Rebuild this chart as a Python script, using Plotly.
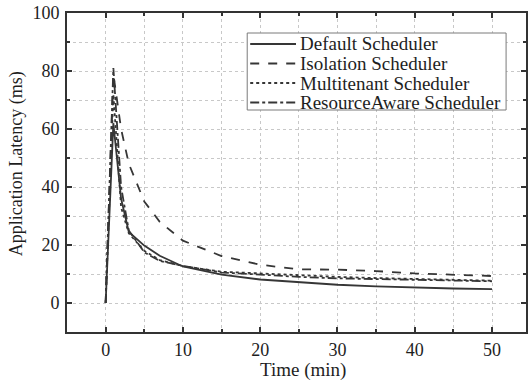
import plotly.graph_objects as go

time_min = [0, 1, 2, 3, 5, 7, 10, 15, 20, 25, 30, 35, 40, 45, 50]
default_latency = [0, 62, 36, 24.5, 19.8, 16.3, 12.6, 9.8, 8.1, 7.1, 6.3, 5.7, 5.3, 5.0, 4.8]
isolation_latency = [0, 79, 60, 48, 35, 28, 21.5, 16.2, 13.2, 11.6, 11.5, 11.0, 10.2, 9.7, 9.3]
multitenant_latency = [0, 72, 33, 24, 18, 14.8, 12.7, 10.8, 10.2, 9.5, 9.0, 8.6, 8.3, 8.0, 7.7]
resourceaware_latency = [0, 81, 40, 25, 17.5, 14.5, 12.8, 10.5, 9.8, 9.0, 8.5, 8.2, 7.9, 7.7, 7.5]

series_names = ["Default Scheduler", "Isolation Scheduler", "Multitenant Scheduler", "ResourceAware Scheduler"]
series_values = [default_latency, isolation_latency, multitenant_latency, resourceaware_latency]
dashes = ["solid", "dash", "dot", "dashdot"]

x_ticks = [0, 10, 20, 30, 40, 50]
y_ticks = [0, 20, 40, 60, 80, 100]

line_color = "#363636"
text_color = "#1e1e1e"
font_family = "Liberation Serif"

W, H = 528, 382
ML, MR, MT, MB = 67, 0, 13, 50
PW, PH = W - ML - MR, H - MT - MB


def px_x(p):
    return (p - ML) / PW


def px_y(p):
    return (H - MB - p) / PH


fig = go.Figure()
for name, vals, dash in zip(series_names, series_values, dashes):
    fig.add_trace(go.Scatter(
        x=time_min, y=vals, mode="lines", name=name, showlegend=False,
        line=dict(color=line_color, width=1.8, dash=dash),
    ))

axis_common = dict(
    showline=True, linecolor="#333333", linewidth=2, mirror="ticks",
    ticks="inside", ticklen=5, tickwidth=1.5, tickcolor="#333333",
    showgrid=True, gridcolor="#c8c8c8", gridwidth=1, griddash="dot",
    zeroline=False,
    tickfont=dict(family=font_family, size=18, color=text_color),
)

shapes = []
annotations = []

# legend box
shapes.append(dict(type="rect", xref="paper", yref="paper",
                   x0=px_x(248), x1=px_x(508), y0=px_y(110), y1=px_y(33),
                   line=dict(color="#7a7a7a", width=1), fillcolor="white", layer="above"))
legend_y = [44, 63.5, 83, 102.5]
for name, dash, yy in zip(series_names, dashes, legend_y):
    shapes.append(dict(type="line", xref="paper", yref="paper",
                       x0=px_x(251), x1=px_x(297), y0=px_y(yy), y1=px_y(yy),
                       line=dict(color=line_color, width=1.8, dash=dash), layer="above"))
    annotations.append(dict(text=name, xref="paper", yref="paper",
                            x=px_x(299), y=px_y(yy), xanchor="left", yanchor="middle",
                            showarrow=False,
                            font=dict(family=font_family, size=19, color=text_color)))

annotations.append(dict(text="Time (min)", xref="paper", yref="paper",
                        x=px_x(304), y=px_y(370), xanchor="center", yanchor="middle",
                        showarrow=False, font=dict(family=font_family, size=19, color=text_color)))
annotations.append(dict(text="Application Latency (ms)", xref="paper", yref="paper",
                        x=px_x(16), y=px_y(164), xanchor="center", yanchor="middle",
                        textangle=-90, showarrow=False,
                        font=dict(family=font_family, size=18, color=text_color)))

fig.update_layout(
    width=W, height=H,
    margin=dict(l=ML, r=MR, t=MT, b=MB),
    paper_bgcolor="white", plot_bgcolor="white",
    font=dict(family=font_family, color=text_color),
    xaxis=dict(
        range=[-5, 54.4], tickvals=x_ticks,
        minor=dict(dtick=5, tick0=0, ticks="inside", ticklen=3, tickcolor="#333333",
                   showgrid=True, gridcolor="#c8c8c8", griddash="dot"),
        **axis_common,
    ),
    yaxis=dict(
        range=[-10, 100], tickvals=y_ticks, ticklabelstandoff=2,
        minor=dict(dtick=10, tick0=0, ticks="inside", ticklen=3, tickcolor="#333333",
                   showgrid=True, gridcolor="#c8c8c8", griddash="dot"),
        **axis_common,
    ),
    shapes=shapes,
    annotations=annotations,
    showlegend=False,
)

fig.write_html("out.html")
